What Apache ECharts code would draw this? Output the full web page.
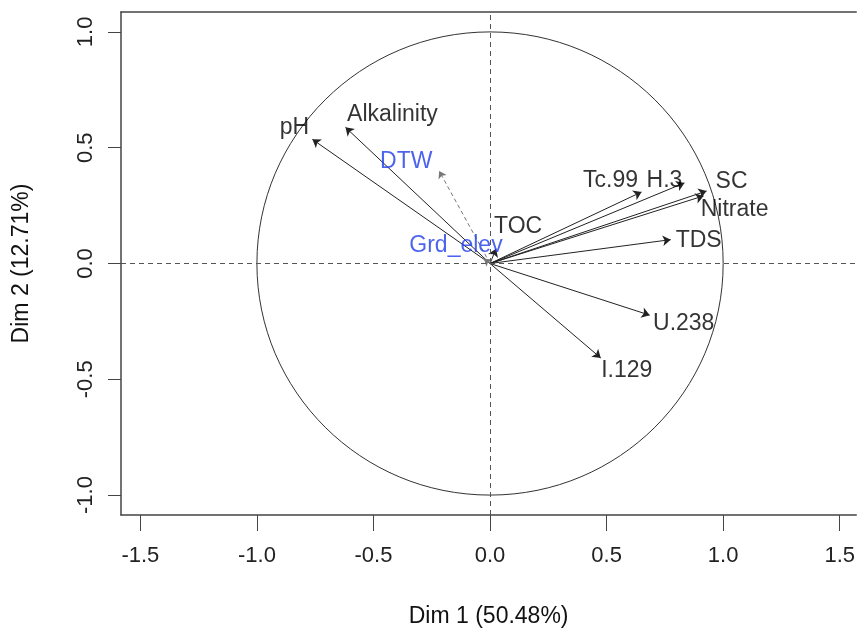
<!DOCTYPE html>
<html>
<head>
<meta charset="utf-8">
<script src="https://cdn.jsdelivr.net/npm/echarts@6/dist/echarts.min.js"></script>
<style>html,body{margin:0;padding:0;background:#fff;overflow:hidden}#c{width:858px;height:633px}</style>
</head>
<body>
<div id="c"></div>
<script>
// ---- data ----
var activeVars = ['pH', 'Alkalinity', 'TOC', 'Tc.99', 'H.3', 'SC', 'Nitrate', 'TDS', 'U.238', 'I.129'];
var activeDim1 = [-0.762, -0.620, 0.026, 0.650, 0.834, 0.929, 0.916, 0.775, 0.685, 0.475];
var activeDim2 = [0.536, 0.588, 0.064, 0.309, 0.348, 0.313, 0.292, 0.103, -0.223, -0.408];
var suppVars = ['DTW', 'Grd_elev'];
var suppDim1 = [-0.218, -0.026];
var suppDim2 = [0.399, 0.021];
var tickValues = [-1.5, -1.0, -0.5, 0.0, 0.5, 1.0, 1.5];
var xTitle = 'Dim 1 (50.48%)';
var yTitle = 'Dim 2 (12.71%)';

// ---- label styling (pixel offsets of each label from its arrow tip) ----
var labelOffset = {
  'pH': [-18, -12], 'Alkalinity': [47, -13], 'TOC': [22, -22], 'Tc.99': [-31, -11],
  'H.3': [-20, -2], 'SC': [25, -9], 'Nitrate': [31, 14], 'TDS': [28, 1],
  'U.238': [34, 9], 'I.129': [26, 13], 'DTW': [-33, -9], 'Grd_elev': [-28, -13]
};

var FONT = '"Liberation Sans", Arial, sans-serif';
var BLUE = '#1f3de8';
var BOX = { show: true, onZero: false, lineStyle: { color: '#444', width: 1.5 } };

function arrows(names, xs, ys) {
  return names.map(function (n, i) { return { name: n, coords: [[0, 0], [xs[i], ys[i]]] }; });
}
function labels(names, xs, ys, color) {
  return names.map(function (n, i) {
    return {
      name: n, value: [xs[i], ys[i]],
      label: { offset: labelOffset[n], color: color }
    };
  });
}

var chart = echarts.init(document.getElementById('c'), null, { renderer: 'canvas' });
var fmt = function (v) { return Number(v).toFixed(1); };
var yTicks = tickValues.filter(function (v) { return Math.abs(v) <= 1; });
var X_MIN = -1.583, X_MAX = 1.571, Y_MIN = -1.086, Y_MAX = 1.086;

chart.setOption({
  backgroundColor: '#fff',
  animation: false,
  grid: { left: 121, top: 12, width: 737, height: 506, show: false },
  xAxis: [{
    type: 'value', min: X_MIN, max: X_MAX, position: 'bottom',
    name: xTitle, nameLocation: 'middle', nameGap: 90,
    nameTextStyle: { fontFamily: FONT, fontSize: 23, color: '#111' },
    axisLine: BOX,
    splitLine: { show: false },
    axisTick: { show: true, inside: false, length: 16, lineStyle: { color: '#444', width: 1 }, customValues: tickValues },
    axisLabel: { customValues: tickValues, formatter: fmt, margin: 30, fontFamily: FONT, fontSize: 22, color: '#222' }
  }, {
    type: 'value', min: X_MIN, max: X_MAX, position: 'top',
    axisLine: BOX, axisTick: { show: false }, axisLabel: { show: false }, splitLine: { show: false }
  }],
  yAxis: {
    type: 'value', min: Y_MIN, max: Y_MAX,
    name: yTitle, nameLocation: 'middle', nameGap: 88, nameRotate: 90,
    nameTextStyle: { fontFamily: FONT, fontSize: 23, color: '#111' },
    axisLine: BOX,
    splitLine: { show: false },
    axisTick: { show: true, inside: false, length: 13, lineStyle: { color: '#444', width: 1 }, customValues: yTicks },
    axisLabel: { customValues: yTicks, formatter: fmt, rotate: 90, margin: 24, fontFamily: FONT, fontSize: 22, color: '#222' }
  },
  series: [
    {
      type: 'custom', silent: true, z: 1,
      data: [[0, 0]],
      renderItem: function (params, api) {
        var c = api.coord([0, 0]);
        var s = api.size([1, 1]);
        return {
          type: 'ellipse',
          shape: { cx: c[0], cy: c[1], rx: s[0], ry: s[1] },
          style: { fill: null, stroke: '#333', lineWidth: 1 }
        };
      },
      markLine: {
        silent: true, symbol: ['none', 'none'], label: { show: false },
        lineStyle: { color: '#555', type: [5, 4], width: 1 },
        data: [{ xAxis: 0 }, { yAxis: 0 }]
      }
    },
    {
      type: 'lines', coordinateSystem: 'cartesian2d', z: 3,
      symbol: ['none', 'arrow'], symbolSize: [0, 8],
      lineStyle: { color: '#222', width: 1, opacity: 1 },
      data: arrows(activeVars, activeDim1, activeDim2)
    },
    {
      type: 'lines', coordinateSystem: 'cartesian2d', z: 3,
      symbol: ['none', 'arrow'], symbolSize: [0, 7],
      lineStyle: { color: '#777', width: 1, type: [4, 3], opacity: 1 },
      data: arrows(suppVars, suppDim1, suppDim2)
    },
    {
      type: 'scatter', symbolSize: 0, z: 4, silent: true,
      label: { show: true, position: 'inside', formatter: '{b}', fontFamily: FONT, fontSize: 23, color: '#000' },
      data: labels(activeVars, activeDim1, activeDim2, '#000')
    },
    {
      type: 'scatter', symbolSize: 0, z: 4, silent: true,
      label: { show: true, position: 'inside', formatter: '{b}', fontFamily: FONT, fontSize: 23, color: BLUE },
      data: labels(suppVars, suppDim1, suppDim2, BLUE)
    }
  ]
});
</script>
</body>
</html>
